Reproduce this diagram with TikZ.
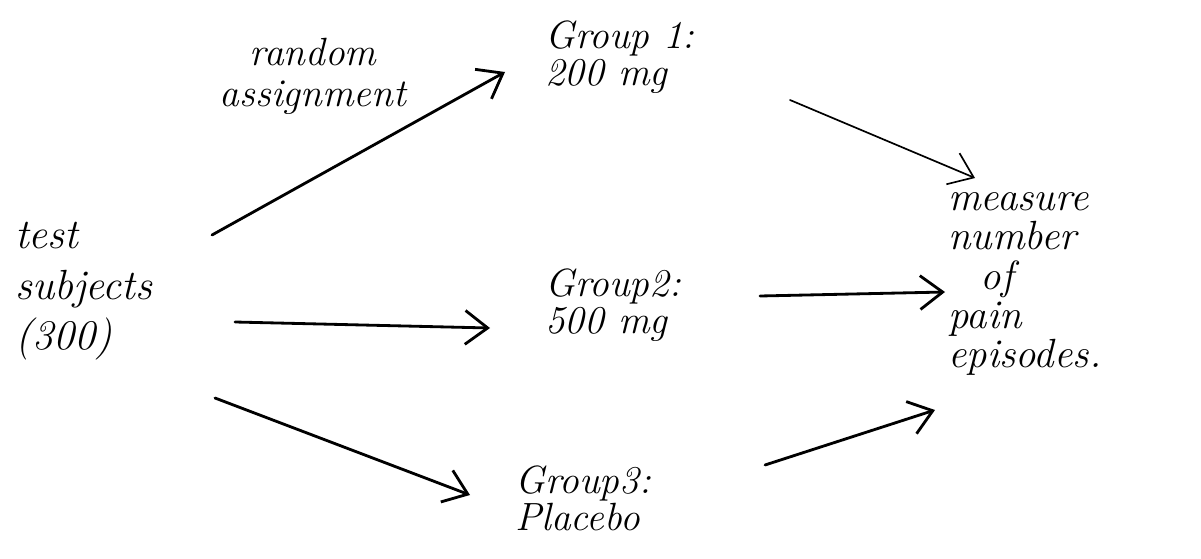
\documentclass[tikz,border=0pt]{standalone}
\usetikzlibrary{arrows.meta,calc}
\begin{document}
\begin{tikzpicture}[x=0.025cm,y=-0.025cm,
  lbl/.style={font=\fontsize{30}{36}\selectfont\itshape, align=left, inner sep=0pt, anchor=north west},
  grp/.style={lbl, font=\fontsize{28}{27}\selectfont\itshape},
  conn/.style={line width=2pt, line cap=round, -{Straight Barb[length=16pt,width=24pt,line width=2pt]}},
  thin/.style={conn, line width=1.2pt, -{Straight Barb[length=16pt,width=24pt,line width=1.2pt]}}]
\useasboundingbox (0,0) rectangle (1201,558);
\node[lbl, align=center, anchor=center, font=\fontsize{28}{29}\selectfont\itshape] (rand) at (313,76) {random\\assignment};
\node[grp] (g1) at (545,20) {Group 1:\\200 mg};
\node[lbl] (test) at (15,222) {test\\subjects\\(300)};
\node[grp] (g2) at (545,268) {Group2:\\500 mg};
\node[grp] (g3) at (515,465) {Group3:\\Placebo};
\node[lbl, font=\fontsize{29}{28}\selectfont\itshape] (meas) at (948,192) {measure\\number\\\hspace{0.8em}of\\pain\\episodes.};
\draw[conn] ($(test.north west)+(197,13)$) -- ($(g1.north west)+(-40,52)$);
\draw[conn] ($(test.north west)+(220,100)$) -- ($(g2.north west)+(-55,60)$);
\draw[conn] ($(test.north west)+(200,176)$) -- ($(g3.north west)+(-45,30)$);
\draw[thin] ($(g1.north west)+(245,80)$) -- ($(meas.north west)+(27,-14)$);
\draw[conn] ($(g2.north west)+(215,28)$) -- ($(meas.north west)+(-3,100)$);
\draw[conn] ($(g3.north west)+(250,0)$) -- ($(meas.north west)+(-13,218)$);
\end{tikzpicture}
\end{document}
